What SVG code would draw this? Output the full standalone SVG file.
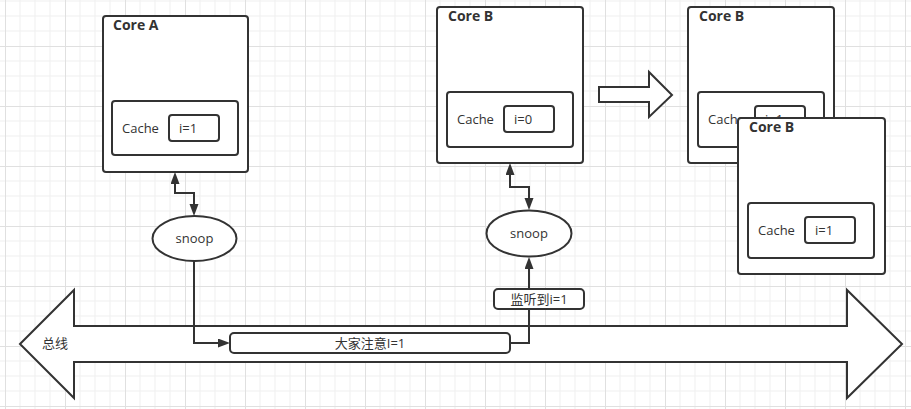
<svg xmlns="http://www.w3.org/2000/svg" width="911" height="409" viewBox="0 0 911 409">
<style>
.box{fill:#fff;stroke:#333;stroke-width:2}
.ln{fill:none;stroke:#333;stroke-width:2}
.t{font-family:"Open Sans","Noto Sans CJK SC",sans-serif;font-size:13px;fill:#333}
.b{font-family:"Open Sans","Noto Sans CJK SC",sans-serif;font-size:14px;font-weight:bold;fill:#333}
.c{text-anchor:middle}
</style>
<defs>
<pattern id="grid" patternUnits="userSpaceOnUse" x="5" y="46" width="60" height="60">
<path d="M15 0V60M30 0V60M45 0V60M0 15H60M0 30H60M0 45H60" stroke="#efefef" stroke-width="1" fill="none"/>
<path d="M0.5 0V60M0 0.5H60" stroke="#e0e0e0" stroke-width="1" fill="none"/>
</pattern>
<marker id="ah" markerUnits="userSpaceOnUse" markerWidth="13" markerHeight="10" refX="0" refY="4.5" orient="auto-start-reverse" viewBox="0 0 13 10">
<path d="M0 0L12 4.5L0 9Z" fill="#333"/>
</marker>
</defs>
<rect width="911" height="409" fill="#fff"/>
<rect width="911" height="409" fill="url(#grid)"/>

<g id="bus">
<polygon class="box" points="20,344 74,290 74,326 847,326 847,290 902,344 847,398 847,362 74,362 74,398"/>
<text class="t c" x="55" y="348">总线</text>
</g>

<g id="core-a">
<rect class="box" x="103" y="16" width="145" height="156" rx="3"/>
<text class="b" x="113" y="29.5">Core A</text>
<rect class="box" x="112" y="101" width="126" height="54" rx="3"/>
<text class="t" x="122" y="133">Cache</text>
<rect class="box" x="169" y="115" width="50" height="26" rx="3"/>
<text class="t" x="179" y="133">i=1</text>
</g>

<g id="core-b">
<rect class="box" x="437" y="7" width="146" height="156" rx="3"/>
<text class="b" x="448" y="21">Core B</text>
<rect class="box" x="447" y="92" width="126" height="55" rx="3"/>
<text class="t" x="457" y="124">Cache</text>
<rect class="box" x="504" y="106" width="50" height="26" rx="3"/>
<text class="t" x="514" y="124">i=0</text>
</g>

<g id="transition-arrow">
<polygon class="box" points="599,87 649,87 649,72 672,95 649,117 649,102 599,102"/>
</g>

<g id="core-b-old">
<rect class="box" x="688" y="7" width="146" height="156" rx="3"/>
<text class="b" x="699" y="21">Core B</text>
<rect class="box" x="698" y="92" width="126" height="55" rx="3"/>
<text class="t" x="708" y="124">Cache</text>
<rect class="box" x="755" y="106" width="50" height="26" rx="3"/>
<text class="t" x="765" y="124">i=1</text>
</g>

<g id="core-b-new">
<rect class="box" x="738" y="118" width="147" height="156" rx="3"/>
<text class="b" x="749" y="132">Core B</text>
<rect class="box" x="748" y="203" width="126" height="55" rx="3"/>
<text class="t" x="758" y="235">Cache</text>
<rect class="box" x="805" y="217" width="50" height="26" rx="3"/>
<text class="t" x="815" y="235">i=1</text>
</g>

<g id="snoop-a">
<ellipse class="box" cx="194.5" cy="238.5" rx="42" ry="22.5"/>
<text class="t c" x="194.5" y="243">snoop</text>
</g>

<g id="snoop-b">
<ellipse class="box" cx="529" cy="233.5" rx="42.5" ry="23"/>
<text class="t c" x="529" y="238">snoop</text>
</g>

<g id="connectors">
<path class="ln" d="M175 184V193H194V204" marker-start="url(#ah)" marker-end="url(#ah)"/>
<path class="ln" d="M510 175V187H529V198" marker-start="url(#ah)" marker-end="url(#ah)"/>
<path class="ln" d="M194 261V343H218" marker-end="url(#ah)"/>
<path class="ln" d="M510 343H529V269" marker-end="url(#ah)"/>
</g>

<g id="message">
<rect class="box" x="230" y="333" width="280" height="20" rx="4"/>
<text class="t c" x="370" y="348">大家注意I=1</text>
</g>

<g id="listen-label">
<rect class="box" x="494" y="289" width="90" height="20" rx="4"/>
<text class="t c" x="539" y="303.5">监听到i=1</text>
</g>
</svg>
